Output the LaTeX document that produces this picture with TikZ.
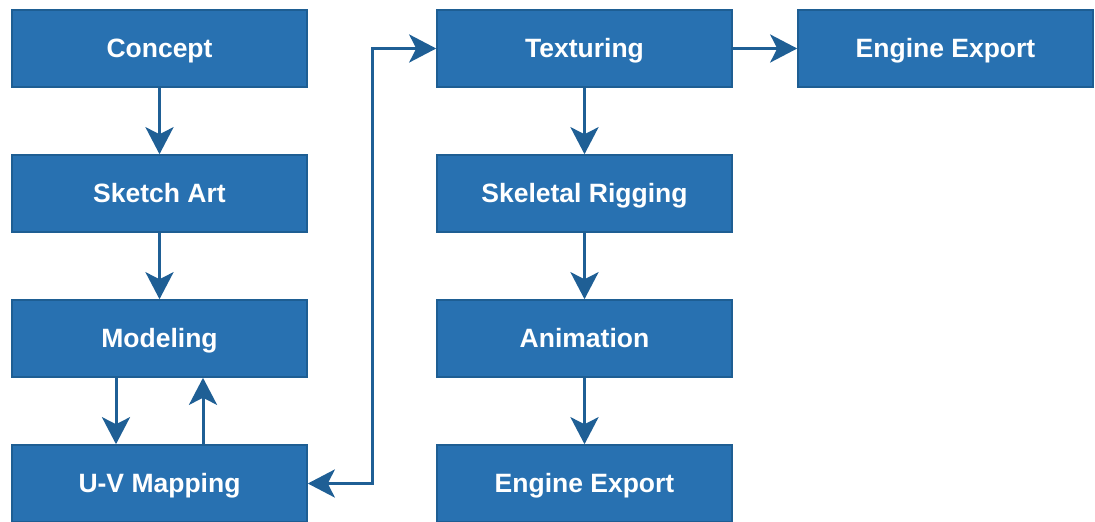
\documentclass[tikz,border=0pt]{standalone}
\usepackage{fontspec}
\setmainfont{Liberation Sans}
\usetikzlibrary{arrows.meta}
\definecolor{boxfill}{HTML}{2871B1}
\definecolor{boxline}{HTML}{1E5E93}
\definecolor{flow}{HTML}{1F5F95}
\tikzset{
  stage/.style={draw=boxline, line width=1.6pt, fill=boxfill,
    minimum width=295pt, minimum height=77pt, inner sep=0pt,
    text height=18.6pt, text depth=0pt,
    text=white, font=\fontsize{26.5}{30}\selectfont\bfseries},
  tip/.tip={Stealth[length=27pt, width=28pt, inset=7pt]},
  flowarrow/.style={draw=flow, line width=3pt, -tip},
  bothways/.style={draw=flow, line width=3pt, tip-tip}
}
\begin{document}
\begin{tikzpicture}[x=1pt, y=-1pt]
\useasboundingbox (0,0) rectangle (1095,522);
% left column
\node[stage] (concept)  at (159.5, 48.5)  {Concept};
\node[stage] (sketch)   at (159.5, 193.5) {Sketch Art};
\node[stage] (modeling) at (159.5, 338.5) {Modeling};
\node[stage] (uv)       at (159.5, 483.5) {U-V Mapping};
% middle column
\node[stage] (texture)  at (584.5, 48.5)  {Texturing};
\node[stage] (rig)      at (584.5, 193.5) {Skeletal Rigging};
\node[stage] (anim)     at (584.5, 338.5) {Animation};
\node[stage] (export)   at (584.5, 483.5) {Engine Export};
% right column
\node[stage] (export2)  at (945.5, 48.5)  {Engine Export};
% connectors
\draw[flowarrow] (concept) -- (sketch);
\draw[flowarrow] (sketch) -- (modeling);
\draw[flowarrow] ([xshift=-43.5pt]modeling.south) -- ([xshift=-43.5pt]uv.north);
\draw[flowarrow] ([xshift=43.5pt]uv.north) -- ([xshift=43.5pt]modeling.south);
\coordinate (bendlow)  at (372, 483.5);
\coordinate (bendhigh) at (372, 48.5);
\draw[bothways] (uv.east) -- (bendlow) -- (bendhigh) -- (texture.west);
\draw[flowarrow] (texture) -- (rig);
\draw[flowarrow] (rig) -- (anim);
\draw[flowarrow] (anim) -- (export);
\draw[flowarrow] (texture) -- (export2);
\end{tikzpicture}
\end{document}
